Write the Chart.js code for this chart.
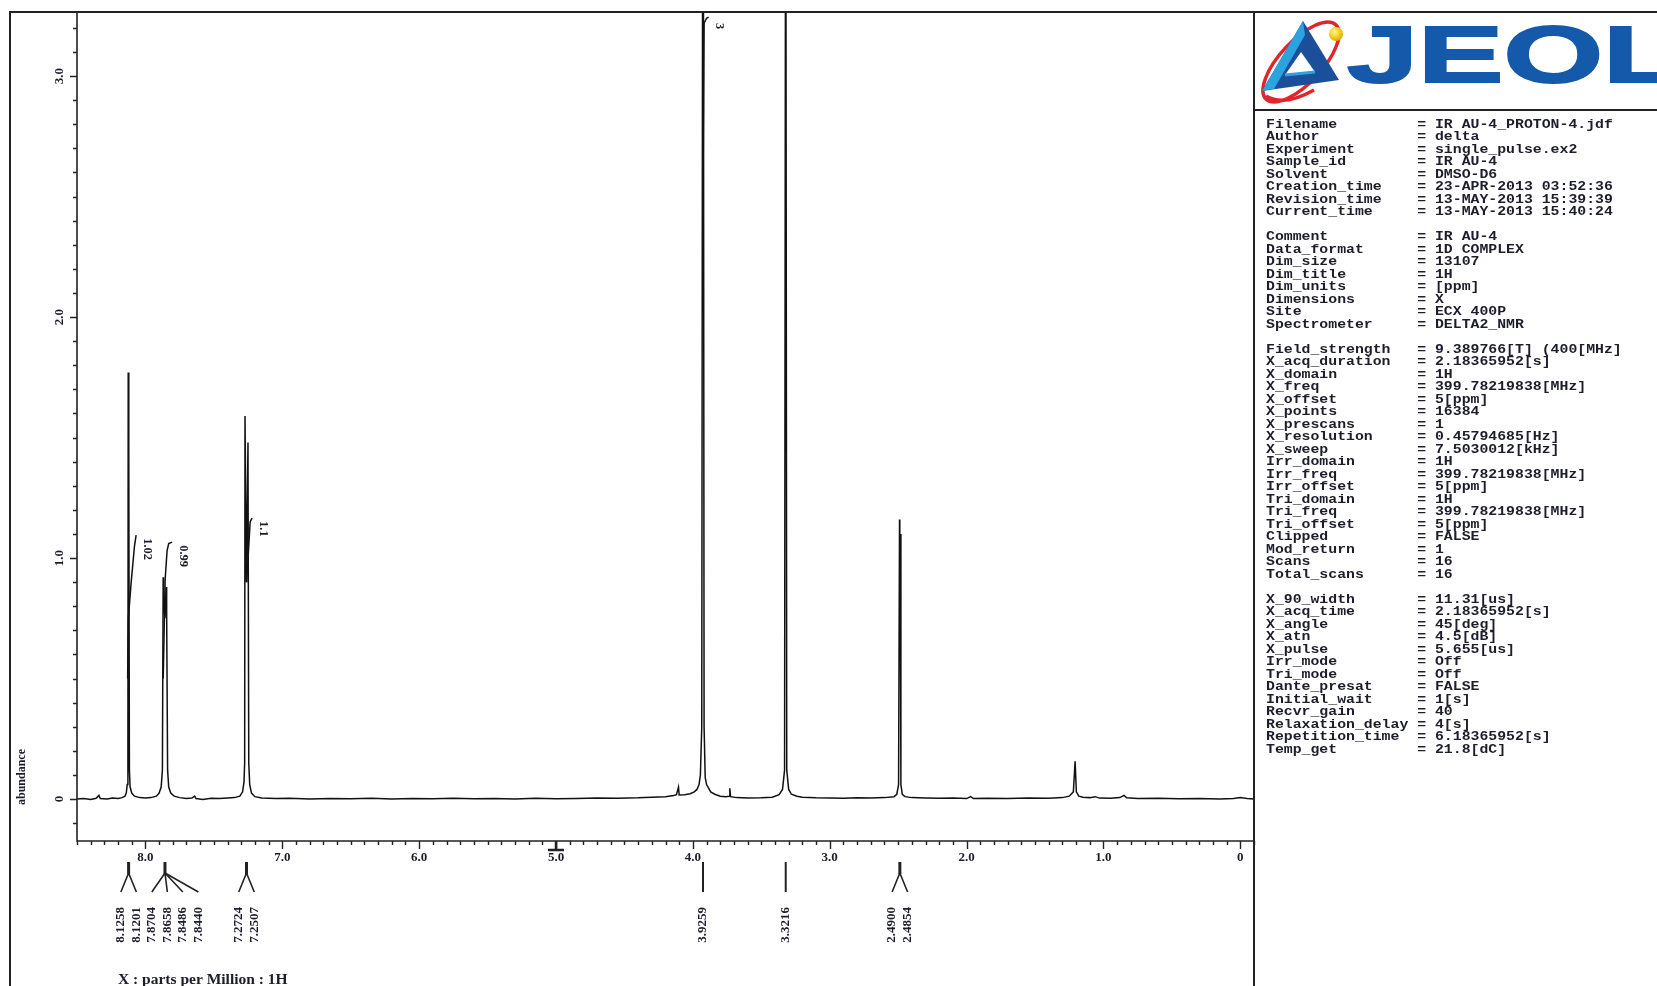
<!DOCTYPE html>
<html><head><meta charset="utf-8">
<script src="https://cdn.jsdelivr.net/npm/chart.js@4.4.1/dist/chart.umd.min.js"></script>
<style>
html,body{margin:0;padding:0;background:#fff;}
#wrap{position:relative;width:1657px;height:986px;overflow:hidden;background:#fff;}
#c{position:absolute;left:0;top:0;}
#logo{position:absolute;left:1254px;top:12px;}
#panel{position:absolute;left:1266px;top:118.75px;font-family:"Liberation Mono","DejaVu Sans Mono",monospace;font-weight:bold;font-size:12px;line-height:12.5px;color:#1d1d2b;white-space:pre;transform-origin:0 0;transform:scaleX(1.235);}
</style></head>
<body><div id="wrap">
<canvas id="c" width="1657" height="986"></canvas>
<svg id="logo" width="403" height="98" viewBox="0 0 403 98">
  <defs><radialGradient id="ball" cx="0.4" cy="0.35" r="0.7"><stop offset="0" stop-color="#fff6a0"/><stop offset="0.5" stop-color="#f7d21e"/><stop offset="1" stop-color="#d9a300"/></radialGradient></defs>
  <ellipse cx="47" cy="50" rx="51" ry="21" transform="rotate(-47 47 50)" fill="none" stroke="#e1262b" stroke-width="3.5"/>
  <polygon points="49,9 8,79 85,68" fill="#1b4f9a"/>
  <polygon points="49,9 8,79 20,77 51,23" fill="#2aa3de"/>
  <polygon points="47,40 31,63 61,60" fill="#ffffff"/>
  <line x1="31" y1="63" x2="61" y2="60" stroke="#2aa3de" stroke-width="3"/>
  <path d="M 12 84 Q 30 95 60 78" fill="none" stroke="#e1262b" stroke-width="3.5"/>
  <circle cx="82" cy="22" r="7" fill="url(#ball)"/>
  <text x="58.1" y="70" font-size="80" font-weight="bold" font-family="Liberation Sans, Arial, sans-serif" fill="#1559ab" stroke="#1559ab" stroke-width="2" stroke-linejoin="miter" transform="scale(1.6,1)">JEOL</text>
</svg>
<div id="panel"></div>
</div>
<script>
// ---------------- data ----------------
const spectrumPpm = [
 8.50,8.45,8.40,8.36,8.34,8.33,8.28,8.24,8.20,8.17,8.15,8.14,8.133,8.128,8.1258,8.123,8.1201,8.117,8.112,8.10,
 8.08,8.04,8.00,7.96,7.92,7.90,7.885,7.876,7.8704,7.868,7.8658,7.858,7.8486,7.846,7.8440,7.838,7.83,7.815,7.79,7.75,
 7.70,7.66,7.64,7.63,7.58,7.52,7.46,7.40,7.35,7.31,7.29,7.28,7.275,7.2724,7.262,7.2507,7.245,7.238,7.225,7.20,
 7.15,7.05,6.95,6.80,6.65,6.50,6.35,6.20,6.05,5.90,5.75,5.60,5.45,5.30,5.15,5.00,4.85,4.70,4.55,4.40,
 4.30,4.20,4.14,4.12,4.105,4.10,4.06,4.02,3.99,3.97,3.955,3.945,3.935,3.9272,3.9246,3.918,3.91,3.90,3.885,3.87,3.84,
 3.80,3.76,3.735,3.73,3.725,3.68,3.60,3.50,3.42,3.37,3.345,3.33,3.3216,3.314,3.30,3.28,3.24,3.20,3.10,3.00,
 2.90,2.80,2.70,2.60,2.53,2.51,2.497,2.4900,2.488,2.4854,2.480,2.47,2.45,2.40,2.30,2.20,2.10,2.00,1.97,1.95,
 1.85,1.70,1.55,1.40,1.30,1.25,1.22,1.207,1.198,1.18,1.15,1.10,1.06,1.03,0.95,0.88,0.85,0.83,0.75,0.60,
 0.45,0.30,0.15,0.05,0.00,-0.05,-0.10
];
const spectrumAbundance = [
 0.000,0.002,-0.002,0.003,0.015,0.002,0.000,0.004,0.002,0.006,0.012,0.025,0.06,0.14,1.77,0.80,1.41,0.12,0.05,0.025,
 0.012,0.006,0.004,0.006,0.012,0.025,0.05,0.12,0.92,0.80,0.85,0.75,0.88,0.75,0.78,0.12,0.05,0.025,0.012,0.006,
 0.002,0.004,0.012,0.002,-0.002,0.003,0.002,0.004,0.006,0.012,0.03,0.07,0.15,1.59,0.90,1.48,0.15,0.06,0.025,0.010,
 0.004,0.002,0.003,0.000,0.002,0.001,0.003,0.000,0.002,0.001,0.003,0.001,0.002,0.000,0.003,0.001,0.002,0.004,0.003,0.005,
 0.008,0.010,0.015,0.018,0.050,0.017,0.018,0.022,0.030,0.040,0.060,0.10,0.30,4.50,4.50,0.30,0.09,0.06,0.045,0.030,0.020,
 0.012,0.010,0.012,0.045,0.010,0.006,0.004,0.005,0.008,0.018,0.040,0.12,4.50,0.12,0.040,0.020,0.012,0.008,0.005,0.004,
 0.003,0.005,0.004,0.006,0.010,0.020,0.060,1.16,0.95,1.10,0.060,0.020,0.010,0.006,0.004,0.003,0.004,0.002,0.010,0.002,
 0.003,0.002,0.004,0.003,0.006,0.012,0.030,0.157,0.030,0.012,0.008,0.006,0.010,0.004,0.003,0.006,0.015,0.005,0.002,0.003,
 0.001,0.002,0.000,0.002,0.006,0.002,0.000
];

// integral curves (ppm, abundance) and their labels
const integral1Ppm = [8.130, 8.125, 8.104, 8.080, 8.068];
const integral1Val = [0.50, 0.75, 0.90, 1.05, 1.095];
const integral2Ppm = [7.870, 7.856, 7.842, 7.830, 7.805];
const integral2Val = [0.50, 0.91, 1.03, 1.06, 1.066];
const integral3Ppm = [7.260, 7.235, 7.221];
const integral3Val = [0.90, 1.15, 1.166];
const integral4Ppm = [3.926, 3.918, 3.900, 3.885];
const integral4Val = [2.50, 3.22, 3.240, 3.245];
const integralLabels = ["1.02", "0.99", "1.1", "3"];

// peak picking groups (ppm) – labels are the values themselves
const peakGroup1 = [8.1258, 8.1201];
const peakGroup2 = [7.8704, 7.8658, 7.8486, 7.8440];
const peakGroup3 = [7.2724, 7.2507];
const peakGroup4 = [3.9259];
const peakGroup5 = [3.3216];
const peakGroup6 = [2.4900, 2.4854];

// axis ticks
const xTickValues = [8, 7, 6, 5, 4, 3, 2, 1, 0];
const xTickLabels = ["8.0", "7.0", "6.0", "5.0", "4.0", "3.0", "2.0", "1.0", "0"];
const yTickValues = [0, 1, 2, 3];
const yTickLabels = ["0", "1.0", "2.0", "3.0"];
const xAxisTitle = "X : parts per Million : 1H";
const yAxisTitle = "abundance";

// parameter panel
const paramNames = ["Filename","Author","Experiment","Sample_id","Solvent","Creation_time","Revision_time","Current_time","",
 "Comment","Data_format","Dim_size","Dim_title","Dim_units","Dimensions","Site","Spectrometer","",
 "Field_strength","X_acq_duration","X_domain","X_freq","X_offset","X_points","X_prescans","X_resolution","X_sweep",
 "Irr_domain","Irr_freq","Irr_offset","Tri_domain","Tri_freq","Tri_offset","Clipped","Mod_return","Scans","Total_scans","",
 "X_90_width","X_acq_time","X_angle","X_atn","X_pulse","Irr_mode","Tri_mode","Dante_presat","Initial_wait","Recvr_gain",
 "Relaxation_delay","Repetition_time","Temp_get"];
const paramValues = ["IR AU-4_PROTON-4.jdf","delta","single_pulse.ex2","IR AU-4","DMSO-D6","23-APR-2013 03:52:36","13-MAY-2013 15:39:39","13-MAY-2013 15:40:24","",
 "IR AU-4","1D COMPLEX","13107","1H","[ppm]","X","ECX 400P","DELTA2_NMR","",
 "9.389766[T] (400[MHz]","2.18365952[s]","1H","399.78219838[MHz]","5[ppm]","16384","1","0.45794685[Hz]","7.5030012[kHz]",
 "1H","399.78219838[MHz]","5[ppm]","1H","399.78219838[MHz]","5[ppm]","FALSE","1","16","16","",
 "11.31[us]","2.18365952[s]","45[deg]","4.5[dB]","5.655[us]","Off","Off","FALSE","1[s]","40",
 "4[s]","6.18365952[s]","21.8[dC]"];

// ---------------- panel ----------------
document.getElementById('panel').textContent = paramNames.map((n, i) =>
  n === "" ? "" : n.padEnd(17) + "= " + paramValues[i]).join("\n");

// ---------------- chart ----------------
const toPts = (xs, ys) => xs.map((x, i) => ({x: x, y: ys[i]}));
const INK = '#1c1c2c';
const SERIF = '"Liberation Serif","Times New Roman",serif';

const overlay = {
  id: 'overlay',
  afterDatasetsDraw(chart) {
    const ctx = chart.ctx;
    const xs = chart.scales.x, ys = chart.scales.y, a = chart.chartArea;
    ctx.save();
    ctx.strokeStyle = '#222'; ctx.fillStyle = INK; ctx.lineCap = 'butt';
    // frame
    ctx.lineWidth = 2;
    ctx.beginPath();
    ctx.moveTo(10, 986); ctx.lineTo(10, 12); ctx.lineTo(1657, 12);
    ctx.moveTo(a.right, 12); ctx.lineTo(a.right, 986);
    ctx.moveTo(a.right, 110); ctx.lineTo(1657, 110);
    ctx.stroke();
    // axes
    ctx.lineWidth = 1.6;
    ctx.beginPath();
    ctx.moveTo(a.left, a.top); ctx.lineTo(a.left, a.bottom); ctx.lineTo(a.right, a.bottom);
    ctx.stroke();
    // y ticks
    ctx.lineWidth = 1.4;
    ctx.beginPath();
    for (let i = -1; i <= 32; i++) {
      const y = Math.round(ys.getPixelForValue(i / 10)) + 0.5;
      const len = i % 10 === 0 ? 7 : 4;
      ctx.moveTo(a.left - len, y); ctx.lineTo(a.left, y);
    }
    // x ticks
    for (let i = -1; i <= 85; i++) {
      const x = Math.round(xs.getPixelForValue(i / 10)) + 0.5;
      const len = i % 10 === 0 ? 8 : 4;
      ctx.moveTo(x, a.bottom); ctx.lineTo(x, a.bottom + len);
    }
    ctx.stroke();
    // offset marker at 5 ppm
    const x5 = xs.getPixelForValue(5);
    ctx.lineWidth = 2.5;
    ctx.beginPath();
    ctx.moveTo(x5, a.bottom); ctx.lineTo(x5, a.bottom + 9);
    ctx.moveTo(x5 - 8, a.bottom + 9); ctx.lineTo(x5 + 8, a.bottom + 9);
    ctx.stroke();
    // x tick labels
    ctx.font = 'bold 13px ' + SERIF;
    ctx.textAlign = 'center'; ctx.textBaseline = 'middle';
    xTickValues.forEach((v, i) => ctx.fillText(xTickLabels[i], xs.getPixelForValue(v), 858));
    // y tick labels (rotated)
    yTickValues.forEach((v, i) => {
      ctx.save(); ctx.translate(60, ys.getPixelForValue(v)); ctx.rotate(-Math.PI / 2);
      ctx.fillText(yTickLabels[i], 0, 0); ctx.restore();
    });
    // axis titles
    ctx.save(); ctx.translate(22, 777); ctx.rotate(-Math.PI / 2);
    ctx.font = 'bold 12px ' + SERIF; ctx.fillText(yAxisTitle, 0, 0); ctx.restore();
    ctx.font = 'bold 15.5px ' + SERIF; ctx.textAlign = 'left';
    ctx.fillText(xAxisTitle, 118, 980);

    // integral labels
    ctx.font = 'bold 12.5px ' + SERIF; ctx.textAlign = 'left'; ctx.textBaseline = 'middle';
    [1, 2, 3, 4].forEach((di, k) => {
      const meta = chart.getDatasetMeta(di);
      const last = meta.data[meta.data.length - 1];
      ctx.save(); ctx.translate(last.x + 11, Math.max(last.y, a.top + 8) + 3); ctx.rotate(Math.PI / 2);
      ctx.fillText(integralLabels[k], 0, 0); ctx.restore();
    });

    // peak picking annotations
    const groups = [peakGroup1, peakGroup2, peakGroup3, peakGroup4, peakGroup5, peakGroup6];
    const spacing = 15.5;
    let prevRight = -Infinity;
    ctx.font = 'bold 13px ' + SERIF;
    groups.forEach(g => {
      const mean = g.reduce((s, v) => s + v, 0) / g.length;
      const cx = xs.getPixelForValue(mean);
      let start = cx - (g.length - 1) * spacing / 2;
      if (start < prevRight + spacing) start = prevRight + spacing;
      const lx = g.map((_, i) => start + i * spacing);
      prevRight = lx[lx.length - 1];
      ctx.strokeStyle = '#222';
      if (g.length === 1) {
        ctx.lineWidth = 2;
        ctx.beginPath(); ctx.moveTo(lx[0], 862); ctx.lineTo(lx[0], 892); ctx.stroke();
      } else {
        ctx.lineWidth = 3;
        ctx.beginPath(); ctx.moveTo(cx, 862); ctx.lineTo(cx, 874); ctx.stroke();
        ctx.lineWidth = 1.6;
        ctx.beginPath();
        lx.forEach(x => { ctx.moveTo(cx, 873); ctx.lineTo(x, 892); });
        ctx.stroke();
      }
      ctx.textAlign = 'right'; ctx.textBaseline = 'middle';
      g.forEach((v, i) => {
        ctx.save(); ctx.translate(lx[i], 907); ctx.rotate(-Math.PI / 2);
        ctx.fillText(v.toFixed(4), 0, 0); ctx.restore();
      });
    });
    ctx.restore();
  }
};

const lineStyle = {showLine: true, pointRadius: 0, borderColor: '#111', tension: 0, clip: 0, fill: false};
new Chart(document.getElementById('c'), {
  type: 'scatter',
  data: {
    datasets: [
      Object.assign({label: 'spectrum', data: toPts(spectrumPpm, spectrumAbundance), borderWidth: 1.5}, lineStyle),
      Object.assign({label: 'integral 1', data: toPts(integral1Ppm, integral1Val), borderWidth: 1.5}, lineStyle),
      Object.assign({label: 'integral 2', data: toPts(integral2Ppm, integral2Val), borderWidth: 1.5}, lineStyle),
      Object.assign({label: 'integral 3', data: toPts(integral3Ppm, integral3Val), borderWidth: 1.5}, lineStyle),
      Object.assign({label: 'integral 4', data: toPts(integral4Ppm, integral4Val), borderWidth: 1.5}, lineStyle)
    ]
  },
  options: {
    responsive: false, animation: false, events: [],
    layout: {padding: {left: 77, top: 12, right: 403, bottom: 145}},
    plugins: {legend: {display: false}, tooltip: {enabled: false}},
    scales: {
      x: {type: 'linear', reverse: true, min: -0.1, max: 8.5, display: false},
      y: {type: 'linear', min: -0.174, max: 3.266, display: false}
    }
  },
  plugins: [overlay]
});
</script>
</body></html>
